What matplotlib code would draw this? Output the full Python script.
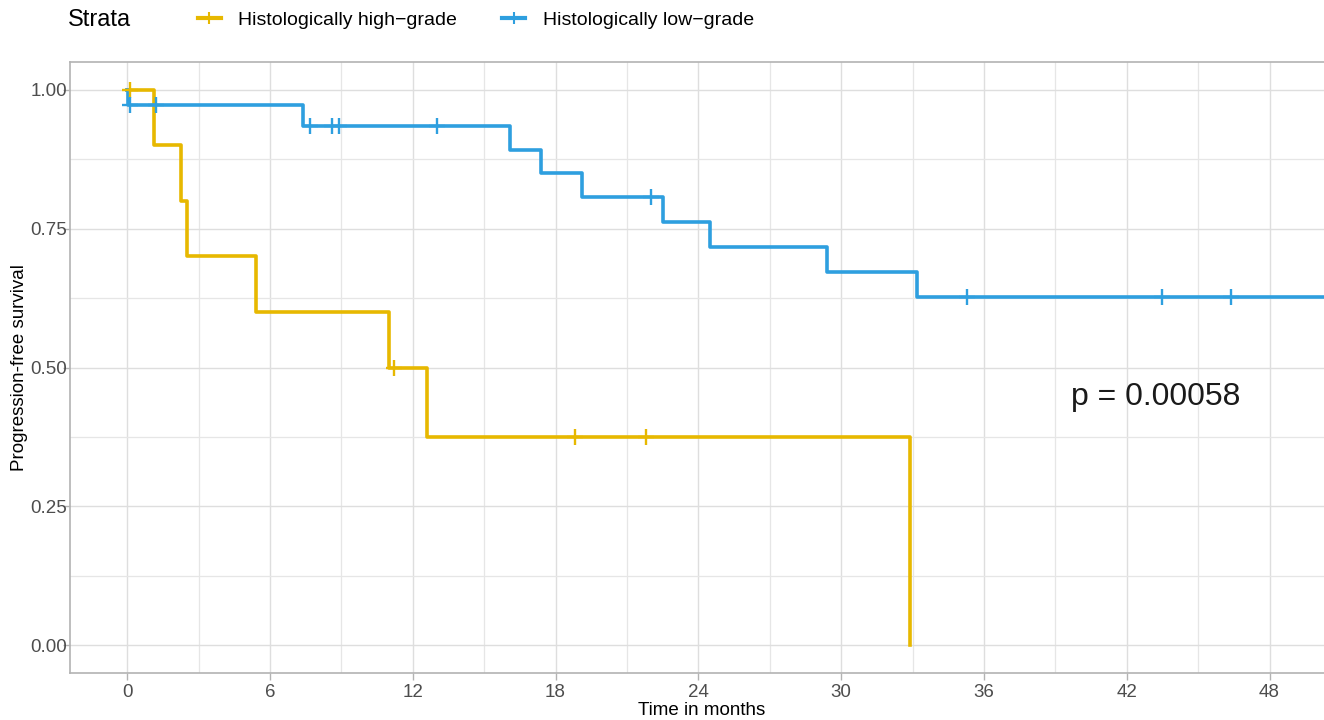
import numpy as np
import matplotlib.pyplot as plt
from matplotlib.lines import Line2D

plt.rcParams["font.family"] = ["Liberation Sans", "DejaVu Sans"]

# Kaplan-Meier steps
high_times = [0, 1.13, 2.27, 2.5, 5.4, 11.0, 12.6, 32.9]
high_surv = [1.0, 0.9, 0.8, 0.7, 0.6, 0.5, 0.375, 0.0]
high_censor = [0.1, 11.2, 18.8, 21.8]

low_times = [0, 0.05, 7.4, 16.1, 17.4, 19.1, 22.5, 24.5, 29.4, 33.2, 51.0]
low_surv = [1.0, 0.973, 0.935, 0.892, 0.850, 0.807, 0.762, 0.717, 0.672, 0.627, 0.627]
low_censor = [0.1, 1.2, 7.7, 8.6, 8.9, 13.0, 22.0, 35.3, 43.5, 46.4]

labels = ["Histologically high\u2212grade", "Histologically low\u2212grade"]
colors = ["#E7B800", "#2E9FDF"]
p_text = "p = 0.00058"


def surv_at(times, surv, t):
    idx = np.searchsorted(times, t, side="right") - 1
    return np.asarray(surv)[idx]


fig = plt.figure(figsize=(13.24, 7.2), dpi=100)
ax = fig.add_axes([70 / 1324, 47 / 720, 1 - 70 / 1324 + 0.002, (673 - 62) / 720])

curves = [
    (high_times, high_surv, high_censor),
    (low_times, low_surv, low_censor),
]
for (t, s, c), col in zip(curves, colors):
    ax.step(t, s, where="post", color=col, lw=2.6, zorder=3)
    ax.plot(c, surv_at(t, s, c), ls="none", marker="+", color=col,
            markersize=11, mew=1.7, zorder=4)

ax.text(43.2, 0.447, p_text, fontsize=23, ha="center", va="center", color="#1a1a1a")

ax.set_xlim(-2.4, 50.4)
ax.set_ylim(-0.05, 1.05)
ax.set_xticks(np.arange(0, 49, 6))
ax.set_xticks(np.arange(3, 49, 6), minor=True)
ax.set_yticks([0, 0.25, 0.5, 0.75, 1.0])
ax.set_yticklabels(["0.00", "0.25", "0.50", "0.75", "1.00"])
ax.set_yticks([0.125, 0.375, 0.625, 0.875], minor=True)

ax.grid(True, which="major", color="#dedede", lw=1.0)
ax.grid(True, which="minor", color="#e6e6e6", lw=0.9)
ax.set_axisbelow(True)

for side in ["left", "bottom", "top"]:
    ax.spines[side].set_color("#b3b3b3")
    ax.spines[side].set_linewidth(1.2)
ax.spines["right"].set_visible(False)

ax.tick_params(axis="both", which="major", labelsize=13.5, colors="#b3b3b3",
               labelcolor="#4d4d4d", length=5, width=1)
ax.tick_params(axis="y", which="major", pad=-3)
ax.tick_params(axis="x", which="major", pad=3)
ax.tick_params(which="minor", length=0)

ax.set_xlabel("Time in months", fontsize=13.5, labelpad=-1)
ax.set_ylabel("Progression-free survival", fontsize=13.5, labelpad=2)
ax.xaxis.set_label_coords(0.503, -0.048)

fig.text(68 / 1324, 1 - 20 / 720, "Strata", fontsize=17, ha="left", va="center")
handles = [Line2D([], [], color=col, lw=3, marker="+", markersize=9, mew=1.5)
           for col in colors]
fig.legend(handles, labels, ncol=2, loc="center left",
           bbox_to_anchor=(180 / 1324, 1 - 20 / 720), frameon=False,
           fontsize=14, handlelength=1.2, handletextpad=0.9, columnspacing=2.3)

plt.savefig("out.png", dpi=100)
